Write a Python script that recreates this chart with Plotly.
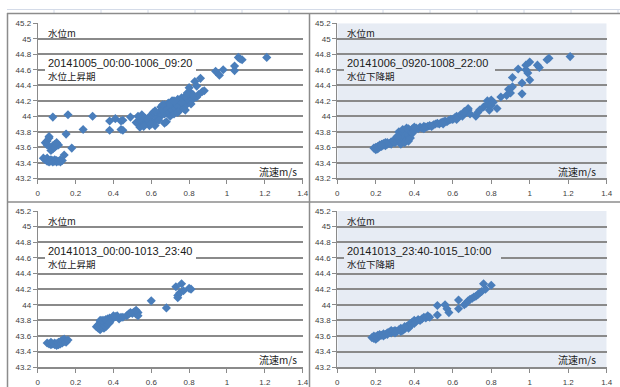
import plotly.graph_objects as go

W, H = 620, 387

# ---------------- data ----------------
x_tick_vals = [0, 0.2, 0.4, 0.6, 0.8, 1.0, 1.2, 1.4]
x_tick_text = ["0", "0.2", "0.4", "0.6", "0.8", "1", "1.2", "1.4"]
y_tick_vals = [43.2, 43.4, 43.6, 43.8, 44.0, 44.2, 44.4, 44.6, 44.8, 45.0, 45.2]
y_tick_text = ["43.2", "43.4", "43.6", "43.8", "44", "44.2", "44.4", "44.6", "44.8", "45", "45.2"]

titles = ["20141005_00:00-1006_09:20", "20141006_0920-1008_22:00",
          "20141013_00:00-1013_23:40", "20141013_23:40-1015_10:00"]
phases = ["水位上昇期", "水位下降期", "水位上昇期", "水位下降期"]
y_label = "水位m"
x_label = "流速m/s"

# panel 1: 20141005 rising
p1_x = [0.03, 0.04, 0.05, 0.05, 0.06, 0.06, 0.07, 0.07, 0.08, 0.08, 0.09, 0.09, 0.10, 0.10, 0.11, 0.12, 0.12, 0.13,
        0.04, 0.05, 0.05, 0.06, 0.06, 0.07, 0.07, 0.08, 0.08, 0.09, 0.09, 0.10, 0.11, 0.10,
        0.08, 0.14, 0.15, 0.16, 0.18, 0.24, 0.29, 0.38, 0.38, 0.41, 0.44, 0.45, 0.44, 0.45, 0.49,
        0.52, 0.53, 0.54, 0.54, 0.55, 0.55, 0.56, 0.57, 0.58, 0.59, 0.60, 0.60, 0.61, 0.62, 0.63, 0.64,
        0.65, 0.65, 0.66, 0.67, 0.67, 0.68, 0.68, 0.69, 0.69, 0.70, 0.70, 0.71, 0.71, 0.72, 0.72, 0.73,
        0.73, 0.74, 0.74, 0.75, 0.75, 0.76, 0.76, 0.77, 0.77, 0.78, 0.78, 0.79, 0.80, 0.80, 0.81, 0.81,
        0.82, 0.80, 0.83, 0.84, 0.84, 0.85, 0.86, 0.87, 0.88, 0.67,
        0.56, 0.58, 0.60, 0.62, 0.64, 0.66, 0.70, 0.72, 0.74, 0.76, 0.78, 0.82, 0.79, 0.53, 0.56, 0.62,
        0.94, 0.96, 0.98, 1.04, 1.04, 1.06, 1.08, 1.07, 1.21]
p1_y = [43.46, 43.44, 43.42, 43.46, 43.43, 43.41, 43.44, 43.42, 43.43, 43.41, 43.44, 43.42, 43.43, 43.41, 43.42, 43.41, 43.44, 43.43,
        43.66, 43.68, 43.63, 43.72, 43.74, 43.60, 43.56, 43.58, 43.62, 43.64, 43.60, 43.62, 43.63, 43.66,
        43.99, 43.50, 43.77, 44.02, 43.59, 43.83, 44.00, 43.82, 43.94, 43.97, 43.94, 43.95, 43.83, 43.82, 43.99,
        43.92, 43.90, 43.86, 43.95, 44.02, 43.93, 43.90, 43.97, 43.92, 43.88, 43.95, 44.02, 44.05, 43.93, 43.98, 44.05,
        44.12, 44.00, 44.08, 44.15, 44.03, 43.93, 44.10, 44.17, 44.05, 44.00, 44.12, 44.20, 44.08, 44.15, 44.03, 44.10,
        44.18, 44.05, 44.14, 44.20, 44.08, 44.24, 44.12, 44.18, 44.10, 44.22, 44.08, 44.16, 44.25, 44.20, 44.16, 44.30,
        44.22, 44.37, 44.45, 44.39, 44.25, 44.28, 44.49, 44.32, 44.33, 43.91,
        43.98, 43.96, 43.90, 44.07, 43.95, 44.15, 44.16, 44.20, 44.22, 44.18, 44.26, 44.28, 44.30, 44.00, 43.87, 43.88,
        44.58, 44.53, 44.60, 44.59, 44.65, 44.76, 44.73, 44.74, 44.76]

# panel 2: 20141006 falling
p2_x = [0.19, 0.20, 0.20, 0.21, 0.21, 0.22, 0.22, 0.23, 0.24, 0.24, 0.25, 0.26, 0.26, 0.27, 0.28, 0.28, 0.29, 0.30,
        0.30, 0.31, 0.32, 0.32, 0.33, 0.33, 0.34, 0.34, 0.35, 0.35, 0.36, 0.36, 0.37, 0.37, 0.38, 0.38, 0.39, 0.40,
        0.41, 0.42, 0.43, 0.44, 0.45, 0.46, 0.47, 0.48, 0.50, 0.51, 0.52, 0.53, 0.54, 0.55, 0.56, 0.57, 0.58, 0.59,
        0.60, 0.61, 0.62, 0.63, 0.64, 0.65, 0.66, 0.67, 0.68, 0.68, 0.69, 0.72, 0.73, 0.74, 0.76, 0.78, 0.78, 0.79,
        0.80, 0.80, 0.81, 0.83, 0.85, 0.88, 0.89, 0.90, 0.91, 0.91, 0.94, 0.96, 0.96, 0.98, 0.98, 0.99, 1.00, 1.00,
        1.04, 1.05, 1.09, 1.10, 1.21,
        0.31, 0.33, 0.35, 0.37, 0.39, 0.40, 0.34, 0.36, 0.25, 0.23, 0.45, 0.49, 0.55, 0.62, 0.66]
p2_y = [43.59, 43.57, 43.60, 43.58, 43.61, 43.60, 43.63, 43.61, 43.63, 43.65, 43.62, 43.64, 43.66, 43.65, 43.67, 43.64, 43.68, 43.66,
        43.70, 43.68, 43.70, 43.80, 43.76, 43.72, 43.79, 43.68, 43.74, 43.82, 43.70, 43.78, 43.76, 43.84, 43.72, 43.80, 43.84, 43.82,
        43.85, 43.84, 43.86, 43.85, 43.87, 43.86, 43.87, 43.88, 43.89, 43.90, 43.91, 43.90, 43.92, 43.93, 43.94, 43.93, 43.95, 43.96,
        43.96, 43.98, 44.00, 43.99, 44.02, 44.00, 44.04, 44.05, 44.08, 44.10, 44.03, 44.00, 44.05, 44.08, 44.12, 44.20, 44.16, 44.08,
        44.21, 44.14, 44.18, 44.10, 44.25, 44.27, 44.35, 44.30, 44.50, 44.38, 44.61, 44.43, 44.29, 44.60, 44.66, 44.56, 44.70, 44.47,
        44.66, 44.63, 44.73, 44.75, 44.77,
        43.74, 43.64, 43.66, 43.68, 43.78, 43.86, 43.83, 43.85, 43.66, 43.64, 43.84, 43.87, 43.90, 43.96, 44.06]

# panel 3: 20141013 rising
p3_x = [0.05, 0.06, 0.07, 0.07, 0.08, 0.09, 0.09, 0.10, 0.10, 0.11, 0.11, 0.12, 0.12, 0.13, 0.13, 0.14, 0.14, 0.15, 0.15, 0.16,
        0.32, 0.32, 0.33, 0.33, 0.33, 0.34, 0.34, 0.35, 0.35, 0.35, 0.36, 0.36, 0.37, 0.37, 0.37, 0.38, 0.38, 0.39, 0.40, 0.41,
        0.42, 0.43, 0.44, 0.47, 0.48, 0.50, 0.51, 0.52, 0.53, 0.53,
        0.34, 0.36, 0.38, 0.40, 0.45, 0.49, 0.52, 0.31,
        0.60, 0.68, 0.73, 0.74, 0.74, 0.75, 0.76, 0.77, 0.80, 0.81]
p3_y = [43.51, 43.50, 43.52, 43.49, 43.50, 43.51, 43.49, 43.50, 43.48, 43.49, 43.52, 43.50, 43.53, 43.51, 43.55, 43.53, 43.56, 43.54, 43.52, 43.55,
        43.70, 43.74, 43.68, 43.78, 43.80, 43.72, 43.76, 43.70, 43.74, 43.80, 43.72, 43.77, 43.78, 43.82, 43.75, 43.80, 43.83, 43.82, 43.83, 43.85,
        43.86, 43.82, 43.84, 43.86, 43.88, 43.89, 43.91, 43.88, 43.90, 43.86,
        43.80, 43.81, 43.77, 43.86, 43.84, 43.90, 43.93, 43.72,
        44.05, 43.96, 44.23, 44.12, 44.09, 44.15, 44.27, 44.18, 44.21, 44.20]

# panel 4: 20141013-1015 falling
p4_x = [0.18, 0.19, 0.19, 0.20, 0.20, 0.21, 0.21, 0.22, 0.22, 0.23, 0.24, 0.25, 0.26, 0.27, 0.28, 0.29, 0.30, 0.31,
        0.32, 0.33, 0.34, 0.35, 0.36, 0.37, 0.37, 0.38, 0.38, 0.39, 0.40, 0.41, 0.42, 0.44, 0.45, 0.47,
        0.24, 0.26, 0.28, 0.30, 0.33, 0.35, 0.40, 0.43, 0.46, 0.48,
        0.52, 0.52, 0.56, 0.57, 0.58, 0.63, 0.63, 0.66, 0.67, 0.68, 0.69, 0.70, 0.71, 0.72, 0.73, 0.74,
        0.75, 0.76, 0.77, 0.80]
p4_y = [43.58, 43.57, 43.60, 43.56, 43.59, 43.58, 43.61, 43.60, 43.62, 43.61, 43.63, 43.62, 43.64, 43.65, 43.64, 43.66, 43.67, 43.66,
        43.68, 43.70, 43.67, 43.69, 43.72, 43.74, 43.70, 43.76, 43.73, 43.78, 43.80, 43.79, 43.81, 43.82, 43.84, 43.86,
        43.60, 43.62, 43.67, 43.64, 43.66, 43.72, 43.76, 43.80, 43.83, 43.84,
        43.99, 43.87, 44.00, 43.95, 43.90, 44.06, 43.95, 44.00, 44.02, 44.05, 44.07, 44.08, 44.10, 44.11, 44.13, 44.15,
        44.17, 44.27, 44.20, 44.25]

series_x = [p1_x, p2_x, p3_x, p4_x]
series_y = [p1_y, p2_y, p3_y, p4_y]

# ---------------- layout geometry (pixels) ----------------
geom = [
    dict(px=(37.7, 302.7), py=(23.3, 178.3), dx=0, dy=0, bg=None),
    dict(px=(337.3, 606.7), py=(23.3, 178.3), dx=299, dy=0, bg="#e7ecf4"),
    dict(px=(37.7, 302.7), py=(211.0, 367.3), dx=0, dy=188, bg=None),
    dict(px=(337.3, 606.7), py=(211.0, 367.3), dx=299, dy=188, bg="#e7ecf4"),
]

MARK = "#4a7ebb"
GRID = "#8a8a8a"
TXT = "#404040"
CJK = "Noto Sans CJK JP, Liberation Sans, sans-serif"
LAT = "Liberation Sans, Arial, sans-serif"

fig = go.Figure()
layout = dict(width=W, height=H, margin=dict(l=0, r=0, t=0, b=0, pad=0), autosize=False,
              paper_bgcolor="white", plot_bgcolor="rgba(0,0,0,0)", showlegend=False, template="none")
shapes = []
annotations = []


def px2data(g, x, y):
    x0, x1 = g["px"]
    y0, y1 = g["py"]
    dx = (x - x0) / (x1 - x0) * 1.4
    dy = 45.2 - (y - y0) / (y1 - y0) * 2.0
    return dx, dy


for i, g in enumerate(geom):
    n = i + 1
    xa = "x" if n == 1 else f"x{n}"
    ya = "y" if n == 1 else f"y{n}"
    fig.add_trace(go.Scatter(x=series_x[i], y=series_y[i], mode="markers",
                             marker=dict(symbol="diamond", size=7, color=MARK, line=dict(width=0)),
                             xaxis=xa, yaxis=ya, hoverinfo="skip"))
    xkey = "xaxis" if n == 1 else f"xaxis{n}"
    ykey = "yaxis" if n == 1 else f"yaxis{n}"
    layout[xkey] = dict(domain=[g["px"][0] / W, g["px"][1] / W], range=[0, 1.4], anchor=ya,
                        tickvals=x_tick_vals, ticktext=x_tick_text, showgrid=False, zeroline=False,
                        showline=True, linecolor=GRID, linewidth=2, ticks="outside", ticklen=4,
                        tickcolor=GRID, tickwidth=1, tickfont=dict(family=LAT, size=8, color=TXT),
                        ticklabelstandoff=2, fixedrange=True, automargin=False)
    layout[ykey] = dict(domain=[1 - g["py"][1] / H, 1 - g["py"][0] / H], range=[43.2, 45.2], anchor=xa,
                        tickvals=y_tick_vals, ticktext=y_tick_text, showgrid=True, gridcolor=GRID,
                        gridwidth=2, zeroline=False, showline=True, linecolor=GRID, linewidth=1,
                        ticks="outside", ticklen=4, tickcolor=GRID, tickwidth=1,
                        tickfont=dict(family=LAT, size=8, color=TXT), fixedrange=True, automargin=False)
    if g["bg"]:
        shapes.append(dict(type="rect", xref=xa, yref=ya, x0=0, x1=1.4, y0=43.2, y1=45.2,
                           fillcolor=g["bg"], line=dict(width=0), layer="below"))
    # text box behind title
    bx0, by0 = px2data(g, 45 + g["dx"], 56 + g["dy"])
    bx1, by1 = px2data(g, 196 + g["dx"] + (6 if n == 4 else 0), 83 + g["dy"])
    shapes.append(dict(type="rect", xref=xa, yref=ya, x0=bx0, x1=bx1, y0=by1, y1=by0,
                       fillcolor=g["bg"] or "white", line=dict(width=0), layer="between"))
    dx, dy = g["dx"], g["dy"]
    annotations += [
        dict(text=y_label, x=(46 + dx) / W, y=1 - (33 + dy) / H, xref="paper", yref="paper",
             xanchor="left", yanchor="middle", showarrow=False, font=dict(family=CJK, size=9.5, color="#1a1a1a")),
        dict(text=titles[i], x=(46 + dx) / W, y=1 - (63 + dy) / H, xref="paper", yref="paper",
             xanchor="left", yanchor="middle", showarrow=False, font=dict(family=LAT, size=11, color="#1a1a1a")),
        dict(text=phases[i], x=(46 + dx) / W, y=1 - (76 + dy) / H, xref="paper", yref="paper",
             xanchor="left", yanchor="middle", showarrow=False, font=dict(family=CJK, size=9.5, color="#1a1a1a")),
        dict(text=x_label, x=(299 + dx) / W, y=1 - (171 + dy) / H, xref="paper", yref="paper",
             xanchor="right", yanchor="middle", showarrow=False, font=dict(family=CJK, size=10, color="#1a1a1a")),
    ]

# worksheet grid lines and chart borders
SHEET = "#d4dbe8"
BORDER = "#8c8c8c"
shapes.append(dict(type="line", xref="paper", yref="paper", x0=7 / W, x1=1, y0=1 - 9.5 / H, y1=1 - 9.5 / H,
                   line=dict(color=SHEET, width=1)))
for cx in [54, 101, 148, 195, 242, 289, 336, 383, 430, 477, 524, 571, 618]:
    shapes.append(dict(type="line", xref="paper", yref="paper", x0=cx / W, x1=cx / W,
                       y0=1 - 9.5 / H, y1=1 - 13 / H, line=dict(color=SHEET, width=1)))
for (x0, y0, x1, y1) in [(7, 13.5, 620, 13.5), (7, 202, 620, 202), (7.5, 13, 7.5, 387), (309.5, 13, 309.5, 387)]:
    shapes.append(dict(type="line", xref="paper", yref="paper", x0=x0 / W, x1=x1 / W,
                       y0=1 - y0 / H, y1=1 - y1 / H, line=dict(color=BORDER, width=1.5)))

layout["shapes"] = shapes
layout["annotations"] = annotations
fig.update_layout(**layout)
fig.write_html("out.html", config={"displayModeBar": False, "staticPlot": True},
               post_script="document.body.style.margin='0';document.body.style.overflow='hidden';")
